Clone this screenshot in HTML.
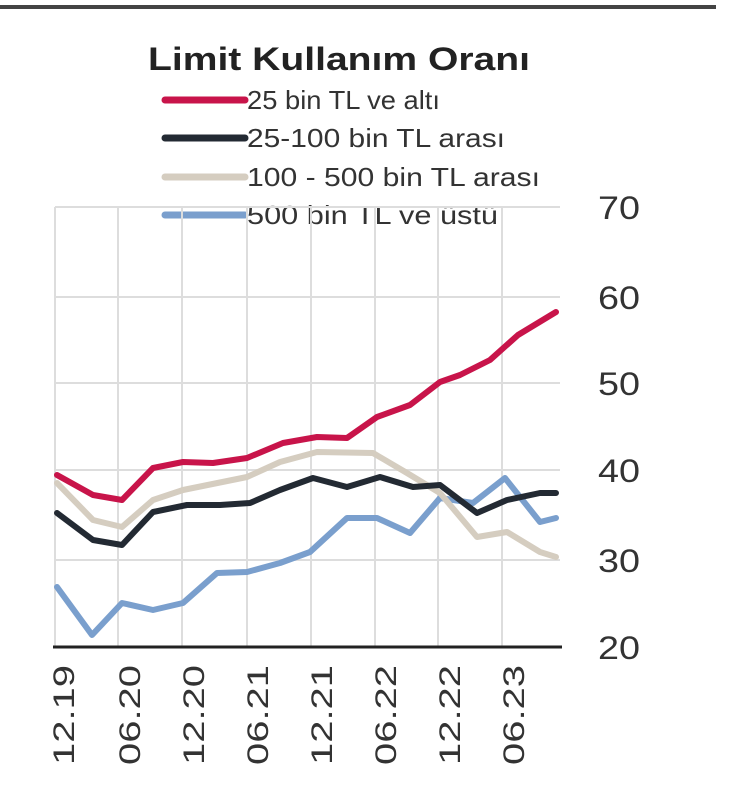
<!DOCTYPE html>
<html><head><meta charset="utf-8"><style>
body{margin:0;background:#fff;}
svg text{font-family:"Liberation Sans",sans-serif;}
</style></head><body>
<svg width="740" height="793" xmlns="http://www.w3.org/2000/svg">
<rect x="0" y="5" width="716" height="4" fill="#444"/>
<text x="148" y="70" font-size="32" font-weight="bold" fill="#222" textLength="382" lengthAdjust="spacingAndGlyphs">Limit Kullanım Oranı</text>
<g stroke-width="7" stroke-linecap="round">
<line x1="165" y1="100" x2="245" y2="100" stroke="#c8144a"/>
<line x1="165" y1="138" x2="245" y2="138" stroke="#232a33"/>
<line x1="165" y1="177" x2="245" y2="177" stroke="#d5cdc0"/>
<line x1="165" y1="215" x2="245" y2="215" stroke="#7a9fcd"/>
</g>
<g font-size="26" fill="#333" lengthAdjust="spacingAndGlyphs">
<text x="247" y="109" textLength="193" lengthAdjust="spacingAndGlyphs">25 bin TL ve altı</text>
<text x="247" y="147" textLength="258" lengthAdjust="spacingAndGlyphs">25-100 bin TL arası</text>
<text x="247" y="186" textLength="293" lengthAdjust="spacingAndGlyphs">100 - 500 bin TL arası</text>
<text x="247" y="224" textLength="251" lengthAdjust="spacingAndGlyphs">500 bin TL ve üstü</text>
</g>
<g stroke="#ddd" stroke-width="2" fill="none">
<line x1="55" y1="207" x2="560" y2="207"/>
<line x1="55" y1="297" x2="560" y2="297"/>
<line x1="55" y1="383" x2="560" y2="383"/>
<line x1="55" y1="470" x2="560" y2="470"/>
<line x1="55" y1="560" x2="560" y2="560"/>
<line x1="55" y1="207" x2="55" y2="647"/>
<line x1="118" y1="207" x2="118" y2="647"/>
<line x1="182" y1="207" x2="182" y2="647"/>
<line x1="247" y1="207" x2="247" y2="647"/>
<line x1="311" y1="207" x2="311" y2="647"/>
<line x1="375" y1="207" x2="375" y2="647"/>
<line x1="438" y1="207" x2="438" y2="647"/>
<line x1="502" y1="207" x2="502" y2="647"/>
</g>
<g fill="none" stroke-width="6" stroke-linejoin="round" stroke-linecap="round">
<polyline stroke="#7a9fcd" points="57,587 92,635 122,603 153,610 183,603 217,573 247,572 280,563 310,552 347,518 377,518 410,533 440,498 473,503 505,478 540,522 556,518"/>
<polyline stroke="#d5cdc0" points="57,483 93,520 122,527 153,500 183,490 247,477 280,462 317,452 373,453 407,473 440,493 477,537 507,532 540,552 556,557"/>
<polyline stroke="#232a33" points="57,513 93,540 122,545 153,512 187,505 220,505 250,503 280,490 313,478 347,487 380,477 413,487 440,485 477,513 507,500 540,493 556,493"/>
<polyline stroke="#c8144a" points="57,475 93,495 122,500 153,468 183,462 213,463 247,458 283,443 317,437 347,438 377,417 410,405 440,382 460,375 490,360 518,335 556,312"/>
</g>
<line x1="53" y1="647" x2="562" y2="647" stroke="#222" stroke-width="3"/>
<g font-size="32" fill="#333">
<text x="598" y="219" textLength="42" lengthAdjust="spacingAndGlyphs">70</text>
<text x="598" y="309" textLength="42" lengthAdjust="spacingAndGlyphs">60</text>
<text x="598" y="395" textLength="42" lengthAdjust="spacingAndGlyphs">50</text>
<text x="598" y="482" textLength="42" lengthAdjust="spacingAndGlyphs">40</text>
<text x="598" y="572" textLength="42" lengthAdjust="spacingAndGlyphs">30</text>
<text x="598" y="659" textLength="42" lengthAdjust="spacingAndGlyphs">20</text>
</g>
<g font-size="30" fill="#333" text-anchor="end">
<text transform="translate(74,665) rotate(-90)" textLength="100" lengthAdjust="spacingAndGlyphs">12.19</text>
<text transform="translate(140,665) rotate(-90)" textLength="100" lengthAdjust="spacingAndGlyphs">06.20</text>
<text transform="translate(204,665) rotate(-90)" textLength="100" lengthAdjust="spacingAndGlyphs">12.20</text>
<text transform="translate(268,665) rotate(-90)" textLength="100" lengthAdjust="spacingAndGlyphs">06.21</text>
<text transform="translate(332,665) rotate(-90)" textLength="100" lengthAdjust="spacingAndGlyphs">12.21</text>
<text transform="translate(396,665) rotate(-90)" textLength="100" lengthAdjust="spacingAndGlyphs">06.22</text>
<text transform="translate(460,665) rotate(-90)" textLength="100" lengthAdjust="spacingAndGlyphs">12.22</text>
<text transform="translate(524,665) rotate(-90)" textLength="100" lengthAdjust="spacingAndGlyphs">06.23</text>
</g>
</svg>
</body></html>
